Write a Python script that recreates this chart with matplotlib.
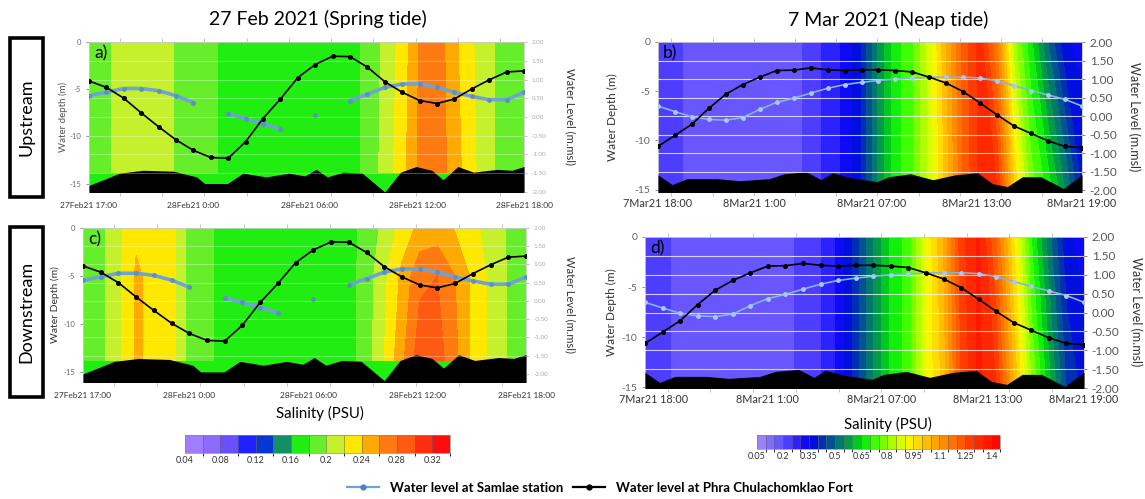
import numpy as np
import matplotlib

matplotlib.use("Agg")
import matplotlib.pyplot as plt
from matplotlib.colors import BoundaryNorm, LinearSegmentedColormap, ListedColormap
from matplotlib.lines import Line2D
from matplotlib.patches import Rectangle

plt.rcParams["font.family"] = ["Lato", "DejaVu Sans"]

# ---- data (hourly, hour 0 = start of each survey) ----
hours = np.arange(26)

# water level at Phra Chulachomklao Fort (m.msl)
fort_spring = [0.96, 0.79, 0.50, 0.11, -0.26, -0.61, -0.89, -1.08, -1.10, -0.66, -0.04, 0.48, 1.05,
               1.40, 1.62, 1.61, 1.33, 0.94, 0.66, 0.44, 0.36, 0.48, 0.75, 0.99, 1.20, 1.23]
fort_neap = [-0.82, -0.52, -0.22, 0.21, 0.59, 0.85, 1.05, 1.23, 1.24, 1.30, 1.25, 1.23, 1.25,
             1.25, 1.23, 1.19, 1.05, 0.89, 0.66, 0.35, 0.03, -0.27, -0.47, -0.67, -0.82, -0.85]

# water level at Samlae station (m.msl), gaps = missing
nan = np.nan
samlae_spring = [0.57, 0.66, 0.76, 0.76, 0.70, 0.57, 0.38, nan, 0.09, -0.04, -0.18, -0.32, nan,
                 0.06, nan, 0.44, 0.61, 0.79, 0.88, 0.88, 0.79, 0.66, 0.55, 0.46, 0.46, 0.66]
samlae_neap = [0.27, 0.12, -0.02, -0.09, -0.11, -0.04, 0.18, 0.37, 0.48, 0.62, 0.75, 0.85, 0.91,
               0.96, 1.00, 1.02, 1.05, 1.05, 1.05, 1.03, 0.95, 0.82, 0.69, 0.57, 0.45, 0.27]

# river bed
bed_t_spring = [0, 1.77, 3.1, 4.87, 6.19, 6.64, 7.96, 8.85, 10.18, 11.5, 12.4, 13.05, 13.7, 14.6,
                15.7, 17.0, 17.9, 18.8, 19.7, 20.35, 21.2, 22.1, 23.45, 24.3, 25]
bed_z_spring = [-15.2, -13.9, -13.6, -13.7, -14.3, -15.0, -15.0, -13.9, -14.3, -13.9, -14.2, -13.5,
                -14.3, -13.8, -13.9, -15.9, -13.8, -13.2, -13.6, -14.6, -13.2, -13.8, -13.5, -13.6, -13.2]
bed_t_neap = [0, 0.83, 1.71, 3.47, 4.79, 6.55, 7.42, 8.74, 9.62, 10.28, 11.38, 12.92, 13.58, 14.89,
              16.21, 17.53, 18.85, 19.73, 20.6, 21.48, 22.58, 23.9, 25]
bed_z_neap = [-13.5, -14.5, -13.9, -13.9, -14.1, -13.9, -13.4, -13.2, -14.0, -13.3, -13.8, -14.2,
              -13.7, -13.4, -14.0, -13.5, -13.3, -14.4, -14.7, -13.7, -13.7, -14.9, -13.5]

# salinity (PSU): rows from surface down, per hour
depth_a = [0, -13.8]
sal_a_top = [0.188, 0.195, 0.212, 0.214, 0.212, 0.198, 0.19, 0.185, 0.172, 0.17, 0.17, 0.17, 0.17,
             0.17, 0.17, 0.172, 0.185, 0.205, 0.228, 0.262, 0.272, 0.245, 0.222, 0.205, 0.19, 0.188]
sal_a_bot = [0.188, 0.195, 0.212, 0.214, 0.212, 0.198, 0.19, 0.185, 0.172, 0.17, 0.17, 0.17, 0.17,
             0.17, 0.17, 0.172, 0.185, 0.208, 0.232, 0.265, 0.272, 0.25, 0.225, 0.205, 0.19, 0.188]
depth_c = [0, -5, -13.8]
sal_c_top = [0.19, 0.195, 0.215, 0.236, 0.232, 0.228, 0.192, 0.185, 0.172, 0.17, 0.17, 0.17, 0.17,
             0.17, 0.17, 0.172, 0.188, 0.205, 0.228, 0.245, 0.248, 0.238, 0.225, 0.212, 0.198, 0.195]
sal_c_mid = [0.19, 0.195, 0.215, 0.243, 0.234, 0.228, 0.192, 0.185, 0.172, 0.17, 0.17, 0.17, 0.17,
             0.17, 0.17, 0.172, 0.19, 0.215, 0.245, 0.275, 0.28, 0.26, 0.235, 0.215, 0.198, 0.195]
sal_c_bot = [0.19, 0.195, 0.215, 0.243, 0.234, 0.228, 0.192, 0.185, 0.172, 0.17, 0.17, 0.17, 0.17,
             0.17, 0.17, 0.172, 0.19, 0.22, 0.255, 0.292, 0.29, 0.265, 0.235, 0.215, 0.198, 0.195]
depth_bd = [0, -15.3]
sal_b_top = [0.23, 0.22, 0.18, 0.17, 0.17, 0.17, 0.17, 0.17, 0.18, 0.22, 0.27, 0.31, 0.40,
             0.56, 0.68, 0.74, 0.87, 1.05, 1.22, 1.32, 1.15, 0.82, 0.66, 0.50, 0.36, 0.33]
sal_b_bot = [0.23, 0.22, 0.18, 0.17, 0.17, 0.17, 0.17, 0.17, 0.18, 0.22, 0.27, 0.31, 0.40,
             0.56, 0.68, 0.74, 0.86, 1.02, 1.20, 1.32, 1.30, 1.00, 0.78, 0.68, 0.55, 0.40]
sal_d_top = [0.23, 0.22, 0.18, 0.17, 0.17, 0.17, 0.17, 0.17, 0.18, 0.22, 0.25, 0.31, 0.42,
             0.55, 0.66, 0.72, 0.90, 1.05, 1.28, 1.36, 1.20, 0.95, 0.70, 0.52, 0.36, 0.33]
sal_d_bot = [0.23, 0.22, 0.18, 0.17, 0.17, 0.17, 0.17, 0.17, 0.18, 0.22, 0.25, 0.31, 0.42,
             0.55, 0.66, 0.72, 0.90, 1.02, 1.25, 1.36, 1.30, 1.05, 0.80, 0.62, 0.45, 0.38]

spring_labels = ["27Feb21 17:00", "28Feb21 0:00", "28Feb21 06:00", "28Feb21 12:00", "28Feb21 18:00"]
neap_labels = ["7Mar21 18:00", "8Mar21 1:00", "8Mar21 07:00", "8Mar21 13:00", "8Mar21 19:00"]

spring_levels = np.round(np.arange(0.04, 0.341, 0.02), 3)
neap_levels = np.round(np.arange(0.05, 1.451, 0.05), 3)
spring_cticks = [0.04, 0.08, 0.12, 0.16, 0.2, 0.24, 0.28, 0.32]
neap_cticks = [0.05, 0.2, 0.35, 0.5, 0.65, 0.8, 0.95, 1.1, 1.25, 1.4]

# ---- colours ----
spring_colors = ["#a07cff", "#8d6bff", "#6a4fff", "#1f22ff", "#0836d2", "#139063", "#20ee10",
                 "#66ee2a", "#c4f02c", "#ffe800", "#ffaa00", "#ff7a10", "#ff5a12", "#ff2e10", "#ff0c0c"]
anchor_v = [0.05, 0.15, 0.2, 0.25, 0.3, 0.35, 0.4, 0.45, 0.5, 0.55, 0.6, 0.65, 0.7, 0.8, 0.9,
            0.95, 1.0, 1.1, 1.2, 1.3, 1.45]
anchor_c = ["#a68cff", "#7060ff", "#5c4aff", "#3c30ff", "#1c14ff", "#0000f0", "#0020c8", "#00409c",
            "#006a80", "#008a5a", "#00b030", "#00dd10", "#22ff00", "#99ff00", "#eeff00", "#ffee00",
            "#ffcc00", "#ff9900", "#ff6600", "#ff3300", "#ff0000"]
lo, hi = anchor_v[0], anchor_v[-1]
neap_cont = LinearSegmentedColormap.from_list(
    "neap", [((v - lo) / (hi - lo), c) for v, c in zip(anchor_v, anchor_c)])
centers = (neap_levels[:-1] + neap_levels[1:]) / 2
neap_colors = [neap_cont((v - lo) / (hi - lo)) for v in centers]

W, H = 1145, 499


def rect(x0, y0, x1, y1):
    return [x0 / W, 1 - y1 / H, (x1 - x0) / W, (y1 - y0) / H]


fig = plt.figure(figsize=(W / 100, H / 100), dpi=100)


def draw_panel(box, depths, rows, levels, colors, fort, samlae, bed_t, bed_z,
               ylim, wl_lim, tick_pos, tick_labels, minor_start, letter, big):
    ax = fig.add_axes(rect(*box))
    X, Y = np.meshgrid(hours, depths)
    Z = np.vstack(rows)
    ax.set_facecolor(colors[2] if big else colors[6])
    ax.contourf(X, Y, Z, levels=levels, colors=colors)
    ax.fill_between(bed_t, bed_z, -30, color="black", lw=0, zorder=3)
    ax.set_xlim(0, 25)
    ax.set_ylim(*ylim)
    ax.set_yticks([0, -5, -10, -15])
    ax.set_yticklabels(["0", "-5", "-10", "-15"])
    ax.set_xticks(tick_pos)
    ax.set_xticklabels(tick_labels)
    ax.set_xticks(np.arange(minor_start, 25, 2.43), minor=True)
    ax.tick_params(axis="x", which="major", length=0, labelsize=7.8 if big else 6,
                   colors="#333333", pad=4 if big else 7)
    ax.tick_params(axis="x", which="minor", top=True, bottom=True, length=3, width=0.6,
                   color="#bbbbbb")
    ax.tick_params(axis="y", labelsize=7.5 if big else 5.5, colors="#666666", length=2, width=0.5)
    for s in ax.spines.values():
        s.set_color("#cccccc")
        s.set_linewidth(0.6)

    ax2 = ax.twinx()
    ax2.set_ylim(*wl_lim)
    wl_ticks = np.arange(2.0, -2.01, -0.5)
    ax2.set_yticks(wl_ticks)
    ax2.set_yticklabels([f"{v:.2f}" for v in wl_ticks])
    ax2.tick_params(axis="y", labelsize=8.5 if big else 4.5,
                    colors="#555555" if big else "#aaaaaa", length=2, width=0.5)
    for v in wl_ticks[1:-1]:
        ax2.axhline(v, color="white", lw=0.8, alpha=0.75 if big else 0.3, zorder=1)
    for s in ax2.spines.values():
        s.set_visible(False)

    if big:
        ax2.plot(hours, samlae, color="#86b2e6", lw=1.2, marker="o", ms=2.5,
                 mfc="#a9c9f2", mec="#a9c9f2", zorder=4)
    else:
        ax2.plot(hours, samlae, color="#6fa3d6", lw=2.6, marker="o", ms=2.5,
                 mfc="#5b8fc8", mec="#5b8fc8", zorder=4)
    ax2.plot(hours, fort, color="black", lw=1.2, marker="o", ms=2.6, zorder=5)
    ax.text(0.012, 0.98, letter, transform=ax.transAxes, ha="left", va="top", fontsize=12.5, zorder=6)
    return ax


spring_ticks = [0, 6.0, 12.7, 18.9, 25]
draw_panel((89, 42, 524, 192), depth_a, [sal_a_top, sal_a_bot], spring_levels, spring_colors,
           fort_spring, samlae_spring, bed_t_spring, bed_z_spring, (-15.9, 0), (-2.0, 2.0),
           spring_ticks, spring_labels, 1.77, "a)", False)
draw_panel((83, 228, 526, 382), depth_c, [sal_c_top, sal_c_mid, sal_c_bot], spring_levels,
           spring_colors, fort_spring, samlae_spring, bed_t_spring, bed_z_spring, (-16.05, 0),
           (-2.22, 2.0), spring_ticks, spring_labels, 1.77, "c)", False)
draw_panel((658, 42, 1082, 192), depth_bd, [sal_b_top, sal_b_bot], neap_levels, neap_colors,
           fort_neap, samlae_neap, bed_t_neap, bed_z_neap, (-15.25, 0), (-2.05, 2.0),
           [0, 5.7, 12.6, 18.8, 25], neap_labels, 0.79, "b)", True)
draw_panel((645, 237, 1084, 388), depth_bd, [sal_d_top, sal_d_bot], neap_levels, neap_colors,
           fort_neap, samlae_neap, bed_t_neap, bed_z_neap, (-15.06, 0), (-2.0, 2.0),
           [0.5, 7.0, 13.5, 19.5, 25], neap_labels, 1.3, "d)", True)


# texts placed in figure pixels
def ftext(x, y, s, **kw):
    fig.text(x / W, 1 - y / H, s, ha="center", va="center", **kw)


ftext(318, 19, "27 Feb 2021 (Spring tide)", fontsize=14)
ftext(888, 20, "7 Mar 2021 (Neap tide)", fontsize=14)
ftext(63, 117, "Water depth (m)", fontsize=7, color="#555555", rotation=90)
ftext(55, 305, "Water Depth (m)", fontsize=7.5, color="#333333", rotation=90)
ftext(612, 117, "Water Depth (m)", fontsize=8.5, color="#333333", rotation=90)
ftext(611, 312, "Water Depth (m)", fontsize=8.5, color="#333333", rotation=90)
ftext(570, 117, "Water Level (m.msl)", fontsize=8, color="#333333", rotation=270)
ftext(570, 305, "Water Level (m.msl)", fontsize=8, color="#333333", rotation=270)
ftext(1134, 117, "Water Level (m.msl)", fontsize=9, color="#333333", rotation=270)
ftext(1136, 312, "Water Level (m.msl)", fontsize=9, color="#333333", rotation=270)

for (y0, y1, name) in [(38, 197, "Upstream"), (227, 397, "Downstream")]:
    fig.patches.append(Rectangle((10 / W, 1 - y1 / H), 33 / W, (y1 - y0) / H, transform=fig.transFigure,
                                 fill=False, lw=2.6, edgecolor="black"))
    ftext(26.5, (y0 + y1) / 2, name, fontsize=13, rotation=90)

# colour bars
ftext(320, 413, "Salinity (PSU)", fontsize=10.8)
ftext(888, 424, "Salinity (PSU)", fontsize=10.8)
for box, levels, colors, cticks in [((185, 435, 450, 453), spring_levels, spring_colors, spring_cticks),
                                    ((757, 435, 1000, 449), neap_levels, neap_colors, neap_cticks)]:
    cax = fig.add_axes(rect(*box))
    cmap = ListedColormap(colors)
    norm = BoundaryNorm(levels, cmap.N)
    sm = plt.cm.ScalarMappable(norm=norm, cmap=cmap)
    cb = fig.colorbar(sm, cax=cax, orientation="horizontal", ticks=cticks, drawedges=True)
    cb.set_ticklabels([f"{v:g}" for v in cticks])
    cb.ax.tick_params(length=0, labelsize=6.5, colors="#333333", pad=2)
    cb.outline.set_edgecolor("#888888")
    cb.outline.set_linewidth(0.5)
    cb.dividers.set_color("#666666")
    cb.dividers.set_linewidth(0.4)

handles = [Line2D([], [], color="#6fa3d6", lw=1.6, marker="o", ms=3.5, mfc="#4f82c0", mec="#4f82c0"),
           Line2D([], [], color="black", lw=1.6, marker="o", ms=3.5)]
fig.legend(handles, ["Water level at Samlae station", "Water level at Phra Chulachomklao Fort"],
           loc="center", bbox_to_anchor=(0.524, 1 - 488 / H), ncol=2, frameon=False,
           prop={"size": 9.5, "weight": "bold"}, handlelength=2.4, handletextpad=0.8,
           columnspacing=0.8)

fig.savefig("out.png", dpi=100)
